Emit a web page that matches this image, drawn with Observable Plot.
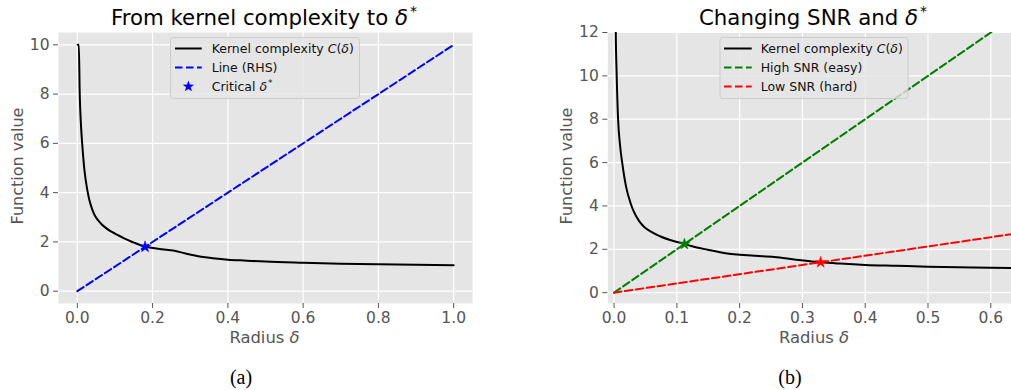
<!DOCTYPE html>
<html><head><meta charset="utf-8">
<script src="https://cdn.jsdelivr.net/npm/d3@7"></script>
<script src="https://cdn.jsdelivr.net/npm/@observablehq/plot@0.6"></script>
<style>
body{margin:0;background:#fff;}
#fig{position:relative;width:1011px;height:390px;overflow:hidden;background:#fff;}
#fig > svg, #fig > div{position:absolute;}
#overlay{position:absolute;left:0;top:0;pointer-events:none;font-family:"DejaVu Sans";}
#pa svg text, #pb svg text{font-size:15.5px !important;font-family:"DejaVu Sans" !important;fill:#555;}
</style>
</head><body>
<div id="fig">
  <div id="pa" style="left:0;top:0"></div>
  <div id="pb" style="left:505px;top:0"></div>
  <svg id="overlay" width="1011" height="390" xmlns="http://www.w3.org/2000/svg">
    <!-- titles -->
    <text x="264" y="25" text-anchor="middle" font-size="21.3" fill="#000">From kernel complexity to <tspan font-style="italic">δ</tspan><tspan font-size="14" dy="-9" dx="2">*</tspan></text>
    <text x="813" y="25" text-anchor="middle" font-size="21.3" fill="#000">Changing SNR and <tspan font-style="italic">δ</tspan><tspan font-size="14" dy="-9" dx="2">*</tspan></text>
    <!-- axis labels -->
    <text x="264.5" y="342.7" text-anchor="middle" font-size="16.4" fill="#555">Radius <tspan font-style="italic">δ</tspan></text>
    <text x="814" y="342.7" text-anchor="middle" font-size="16.4" fill="#555">Radius <tspan font-style="italic">δ</tspan></text>
    <text transform="translate(23,166) rotate(-90)" text-anchor="middle" font-size="16" fill="#555">Function value</text>
    <text transform="translate(572,166) rotate(-90)" text-anchor="middle" font-size="16" fill="#555">Function value</text>
    <!-- captions -->
    <text x="241" y="384" text-anchor="middle" font-family="Liberation Serif" font-size="20" fill="#000">(a)</text>
    <text x="790" y="384" text-anchor="middle" font-family="Liberation Serif" font-size="20" fill="#000">(b)</text>
    <!-- legend (a) -->
    <g font-size="12.5" fill="#111">
      <rect x="170.5" y="37.5" width="189" height="61" rx="3" fill="#e5e5e5" fill-opacity="0.8" stroke="#cccccc"/>
      <line x1="175" x2="201.7" y1="48.5" y2="48.5" stroke="black" stroke-width="2"/>
      <text x="211.7" y="48.5" dy="0.35em">Kernel complexity <tspan font-style="italic">C</tspan>(<tspan font-style="italic">δ</tspan>)</text>
      <line x1="175" x2="201.7" y1="67.5" y2="67.5" stroke="blue" stroke-width="2" stroke-dasharray="7.5,3.5"/>
      <text x="211.7" y="67.5" dy="0.35em">Line (RHS)</text>
      <path transform="translate(188.4,86.5)" d="M0,-6L1.41,-1.94L5.71,-1.85L2.28,0.74L3.53,4.85L0,2.4L-3.53,4.85L-2.28,0.74L-5.71,-1.85L-1.41,-1.94Z" fill="blue"/>
      <text x="211.7" y="86.5" dy="0.35em">Critical <tspan font-style="italic">δ</tspan><tspan font-size="9" dy="-5" dx="1">*</tspan></text>
    </g>
    <!-- legend (b) -->
    <g font-size="12.5" fill="#111">
      <rect x="720" y="37.5" width="188" height="61" rx="3" fill="#e5e5e5" fill-opacity="0.8" stroke="#cccccc"/>
      <line x1="724" x2="751.7" y1="48.5" y2="48.5" stroke="black" stroke-width="2"/>
      <text x="760.7" y="48.5" dy="0.35em">Kernel complexity <tspan font-style="italic">C</tspan>(<tspan font-style="italic">δ</tspan>)</text>
      <line x1="724" x2="751.7" y1="67.5" y2="67.5" stroke="green" stroke-width="2" stroke-dasharray="7.5,3.5"/>
      <text x="760.7" y="67.5" dy="0.35em">High SNR (easy)</text>
      <line x1="724" x2="751.7" y1="86.5" y2="86.5" stroke="red" stroke-width="2" stroke-dasharray="7.5,3.5"/>
      <text x="760.7" y="86.5" dy="0.35em">Low SNR (hard)</text>
    </g>
  </svg>
</div>
<script>
// ---- data ----
const kernelDelta = [0.001, 0.002, 0.0027, 0.004, 0.0064, 0.0095, 0.0134, 0.019, 0.0266, 0.032, 0.04, 0.048, 0.056, 0.0637, 0.074, 0.088, 0.1, 0.1115, 0.123, 0.149, 0.18, 0.196, 0.225, 0.255, 0.29, 0.329, 0.36, 0.4, 0.45, 0.5, 0.6, 0.7, 0.8, 0.9, 1.0];
const kernelValue = [30, 16, 12, 10.2, 8.0, 6.8, 5.9, 4.9, 4.1, 3.7, 3.3, 3.03, 2.86, 2.73, 2.59, 2.44, 2.34, 2.25, 2.15, 1.98, 1.81, 1.76, 1.70, 1.65, 1.52, 1.40, 1.34, 1.28, 1.24, 1.20, 1.15, 1.11, 1.09, 1.07, 1.05];
const leftClip = 10;

const rhsDelta = [0, 1.0];
const rhsValue = [0, 10];
const criticalDelta = [0.18];
const criticalValue = [1.8];

const highSnrDelta = [0, 0.65];
const highSnrValue = [0, 13.0];
const lowSnrDelta = [0, 0.65];
const lowSnrValue = [0, 2.77];
const highStarDelta = [0.112];
const highStarValue = [2.24];
const lowStarDelta = [0.329];
const lowStarValue = [1.40];

const leftTicksX = [0, 0.2, 0.4, 0.6, 0.8, 1.0];
const leftTicksY = [0, 2, 4, 6, 8, 10];
const rightTicksX = [0, 0.1, 0.2, 0.3, 0.4, 0.5, 0.6];
const rightTicksY = [0, 2, 4, 6, 8, 10, 12];

const rows = (xs, ys) => xs.map((x, i) => ({x, y: ys[i]}));
const dash = "7.5,3.5";
const style = {fontFamily: "DejaVu Sans", fontSize: "15.5px", color: "#555", background: "transparent", overflow: "visible"};

function common(tx, ty) {
  return [
    Plot.frame({fill: "#e5e5e5", stroke: "none"}),
    Plot.gridX(tx, {stroke: "white", strokeOpacity: 1, strokeWidth: 1.2}),
    Plot.gridY(ty, {stroke: "white", strokeOpacity: 1, strokeWidth: 1.2}),
    Plot.axisX(tx, {tickSize: 5, tickPadding: 3, fontSize: 15.5, tickFormat: d3.format(".1f"), label: null}),
    Plot.axisY(ty, {tickSize: 5, tickPadding: 4, fontSize: 15.5, tickFormat: d => String(d), label: null})
  ];
}

const left = Plot.plot({
  width: 505, height: 330,
  marginLeft: 58, marginRight: 33, marginTop: 32, marginBottom: 27,
  x: {domain: [-0.05, 1.05]},
  y: {domain: [-0.5, 10.5]},
  style,
  marks: [
    ...common(leftTicksX, leftTicksY),
    Plot.line(rows(kernelDelta, kernelValue.map(v => Math.min(v, leftClip))), {x: "x", y: "y", stroke: "black", strokeWidth: 2, curve: "monotone-x"}),
    Plot.line(rows(rhsDelta, rhsValue), {x: "x", y: "y", stroke: "blue", strokeWidth: 2, strokeDasharray: dash}),
    Plot.dot(rows(criticalDelta, criticalValue), {x: "x", y: "y", symbol: "star", r: 3.6, fill: "blue", stroke: "blue", strokeWidth: 0.5})
  ]
});
document.getElementById("pa").appendChild(left);

const right = Plot.plot({
  width: 506, height: 330,
  marginLeft: 102.3, marginRight: 0, marginTop: 32, marginBottom: 27,
  x: {domain: [-0.01, 0.633]},
  y: {domain: [-0.5, 12]},
  style,
  marks: [
    ...common(rightTicksX, rightTicksY),
    Plot.line(rows(kernelDelta, kernelValue), {x: "x", y: "y", stroke: "black", strokeWidth: 2, curve: "monotone-x", clip: true}),
    Plot.line(rows(highSnrDelta, highSnrValue), {x: "x", y: "y", stroke: "green", strokeWidth: 2, strokeDasharray: dash, clip: true}),
    Plot.line(rows(lowSnrDelta, lowSnrValue), {x: "x", y: "y", stroke: "red", strokeWidth: 2, strokeDasharray: dash, clip: true}),
    Plot.dot(rows(highStarDelta, highStarValue), {x: "x", y: "y", symbol: "star", r: 3.6, fill: "green", stroke: "green", strokeWidth: 0.5}),
    Plot.dot(rows(lowStarDelta, lowStarValue), {x: "x", y: "y", symbol: "star", r: 3.6, fill: "red", stroke: "red", strokeWidth: 0.5})
  ]
});
document.getElementById("pb").appendChild(right);
</script>
</body></html>
